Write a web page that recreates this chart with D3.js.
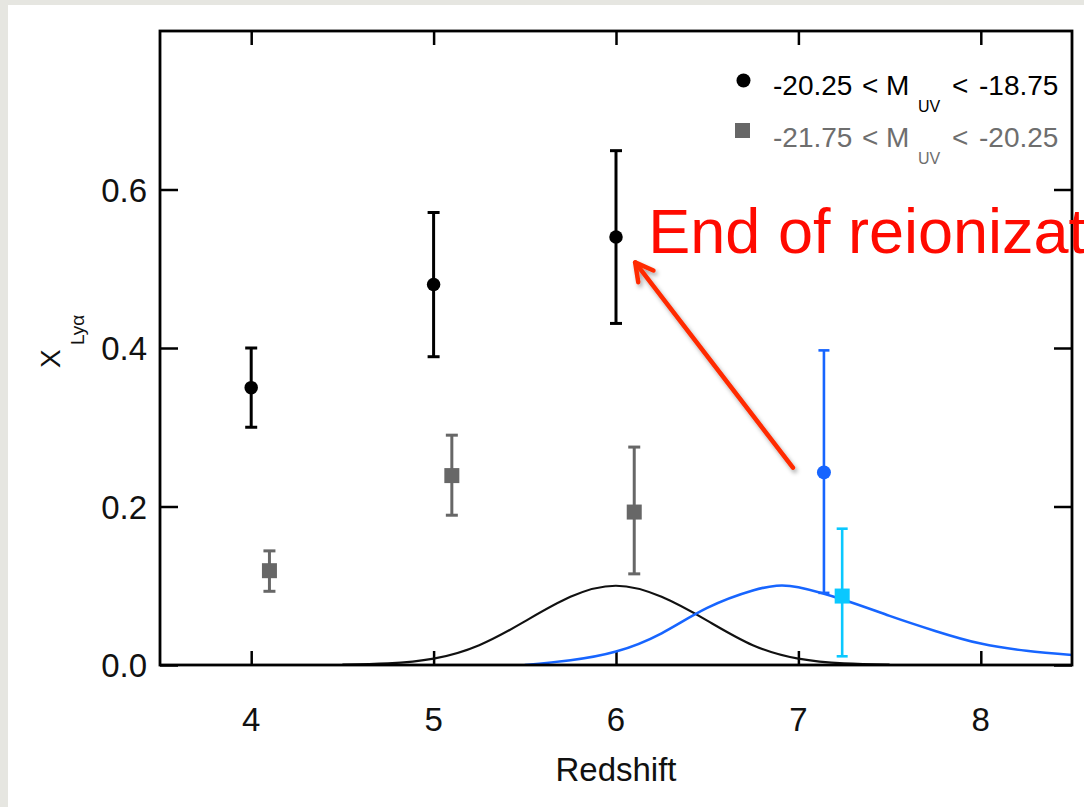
<!DOCTYPE html>
<html>
<head>
<meta charset="utf-8">
<script src="https://cdn.jsdelivr.net/npm/d3@7"></script>
<style>
  html, body { margin: 0; padding: 0; background: #e8e8e3; }
  svg { display: block; }
  text { font-family: "Liberation Sans", Arial, Helvetica, sans-serif; }
</style>
</head>
<body>
<svg id="chart" width="1084" height="807"></svg>
<script>
// Ly-alpha fraction measurements, faint sample (-20.25 < M_UV < -18.75)
const faintZ   = [4.0, 5.0, 6.0];
const faintX   = [0.350, 0.480, 0.540];
const faintLo  = [0.300, 0.389, 0.431];
const faintHi  = [0.400, 0.571, 0.649];

// bright sample (-21.75 < M_UV < -20.25)
const brightZ  = [4.1, 5.1, 6.1];
const brightX  = [0.119, 0.239, 0.193];
const brightLo = [0.093, 0.189, 0.115];
const brightHi = [0.144, 0.290, 0.275];

// z ~ 7 points
const faint7Z = [7.14], faint7X = [0.243], faint7Lo = [0.091], faint7Hi = [0.397];
const bright7Z = [7.24], bright7X = [0.087], bright7Lo = [0.011], bright7Hi = [0.172];

// redshift distributions of the two samples (arbitrary normalisation)
const distZ6Z = [4.5, 4.75, 5.0, 5.25, 5.5, 5.75, 6.0, 6.25, 6.5, 6.75, 7.0, 7.25, 7.5];
const distZ6V = [0.0005, 0.002, 0.008, 0.025, 0.055, 0.086, 0.100, 0.086, 0.056, 0.025, 0.008, 0.002, 0.0005];
const distZ7Z = [5.5, 5.75, 6.0, 6.25, 6.5, 6.75, 6.88, 7.0, 7.25, 7.5, 7.75, 8.0, 8.25, 8.5];
const distZ7V = [0.0, 0.006, 0.017, 0.040, 0.072, 0.094, 0.100, 0.098, 0.082, 0.062, 0.043, 0.027, 0.018, 0.0126];

const xTicks = [4, 5, 6, 7, 8];
const yTicks = [0.0, 0.2, 0.4, 0.6];

const svg = d3.select("#chart");

const defs = svg.append("defs");
const sh = defs.append("filter").attr("id", "arrowShadow")
  .attr("x", "-20%").attr("y", "-20%").attr("width", "140%").attr("height", "140%");
sh.append("feDropShadow").attr("dx", 2).attr("dy", 3).attr("stdDeviation", 2)
  .attr("flood-color", "#000").attr("flood-opacity", 0.35);

// slide panel
svg.append("rect").attr("x", 0).attr("y", 0).attr("width", 1084).attr("height", 807).attr("fill", "#e6e6e1");
svg.append("rect").attr("x", 8).attr("y", 5).attr("width", 1076).attr("height", 802).attr("fill", "#ffffff");

const L = 160, R = 1072, T = 31, B = 665;
const x = d3.scaleLinear().domain([3.5, 8.5]).range([L, R]);
const y = d3.scaleLinear().domain([0, 0.8]).range([B, T]);

defs.append("clipPath").attr("id", "plotClip")
  .append("rect").attr("x", L).attr("y", T).attr("width", R - L).attr("height", B - T);

// axes (box with mirrored inward ticks)
const axisStyle = g => {
  g.selectAll(".domain").remove();
  g.selectAll(".tick line").attr("stroke", "#000").attr("stroke-width", 2.5);
  g.selectAll(".tick text").remove();
};
svg.append("g").attr("transform", `translate(0,${B})`)
  .call(d3.axisBottom(x).tickValues(xTicks).tickSize(-14)).call(axisStyle);
svg.append("g").attr("transform", `translate(0,${T})`)
  .call(d3.axisTop(x).tickValues(xTicks).tickSize(-14)).call(axisStyle);
svg.append("g").attr("transform", `translate(${L},0)`)
  .call(d3.axisLeft(y).tickValues(yTicks).tickSize(-18)).call(axisStyle);
svg.append("g").attr("transform", `translate(${R},0)`)
  .call(d3.axisRight(y).tickValues(yTicks).tickSize(-18)).call(axisStyle);

// tick labels
svg.append("g").selectAll("text").data(xTicks).join("text")
  .attr("x", d => x(d)).attr("y", 731).attr("text-anchor", "middle")
  .attr("font-size", 33).attr("fill", "#111").text(d => d);
svg.append("g").selectAll("text").data(yTicks).join("text")
  .attr("x", 147).attr("y", d => y(d) + 12).attr("text-anchor", "end")
  .attr("font-size", 33).attr("fill", "#111").text(d => d.toFixed(1));

// axis titles
svg.append("text").attr("x", x(6)).attr("y", 781).attr("text-anchor", "middle")
  .attr("font-size", 33).attr("fill", "#111").text("Redshift");
const yt = svg.append("g").attr("transform", "translate(60,368) rotate(-90)");
yt.append("text").attr("x", 0).attr("y", 0).attr("font-size", 28).attr("fill", "#111").text("X");
yt.append("text").attr("x", 23).attr("y", 24).attr("font-size", 19).attr("fill", "#111").text("Lyα");

// redshift distributions
const plot = svg.append("g").attr("clip-path", "url(#plotClip)");
const line = d3.line().x(d => x(d[0])).y(d => y(d[1])).curve(d3.curveNatural);
plot.append("path").datum(d3.zip(distZ6Z, distZ6V)).attr("d", line)
  .attr("fill", "none").attr("stroke", "#111").attr("stroke-width", 2.2);
plot.append("path").datum(d3.zip(distZ7Z, distZ7V)).attr("d", line)
  .attr("fill", "none").attr("stroke", "#1765ff").attr("stroke-width", 2.6);

// plot frame
svg.append("rect").attr("x", L).attr("y", T).attr("width", R - L).attr("height", B - T)
  .attr("fill", "none").attr("stroke", "#000").attr("stroke-width", 2.8);

// error bars + markers
function series(zs, vs, lo, hi, color, shape, lw, cap, size) {
  const data = zs.map((z, i) => ({ z, v: vs[i], lo: lo[i], hi: hi[i] }));
  const g = svg.append("g");
  g.selectAll("line.bar").data(data).join("line").attr("class", "bar")
    .attr("x1", d => x(d.z)).attr("x2", d => x(d.z))
    .attr("y1", d => y(d.lo)).attr("y2", d => y(d.hi))
    .attr("stroke", color).attr("stroke-width", lw);
  ["lo", "hi"].forEach(k => {
    g.selectAll("line.cap" + k).data(data).join("line").attr("class", "cap" + k)
      .attr("x1", d => x(d.z) - cap / 2).attr("x2", d => x(d.z) + cap / 2)
      .attr("y1", d => y(d[k])).attr("y2", d => y(d[k]))
      .attr("stroke", color).attr("stroke-width", lw);
  });
  if (shape === "circle") {
    g.selectAll("circle").data(data).join("circle")
      .attr("cx", d => x(d.z)).attr("cy", d => y(d.v)).attr("r", size / 2).attr("fill", color);
  } else {
    g.selectAll("rect").data(data).join("rect")
      .attr("x", d => x(d.z) - size / 2).attr("y", d => y(d.v) - size / 2)
      .attr("width", size).attr("height", size).attr("fill", color);
  }
}
series(faintZ, faintX, faintLo, faintHi, "#000000", "circle", 3, 12, 13.5);
series(brightZ, brightX, brightLo, brightHi, "#676767", "square", 3, 12, 15);
series(faint7Z, faint7X, faint7Lo, faint7Hi, "#1765ff", "circle", 2.6, 11, 14);
series(bright7Z, bright7X, bright7Lo, bright7Hi, "#0ac8ff", "square", 2.6, 11, 15);

// legend
const leg = svg.append("g");
leg.append("circle").attr("cx", 743.5).attr("cy", 80.5).attr("r", 7).attr("fill", "#000");
leg.append("rect").attr("x", 735).attr("y", 123).attr("width", 15).attr("height", 15).attr("fill", "#676767");
const legRows = [
  { lo: "-20.25", hi: "-18.75", color: "#000", base: 95 },
  { lo: "-21.75", hi: "-20.25", color: "#6e6e6e", base: 147 }
];
legRows.forEach(r => {
  const t = leg.append("text").attr("font-size", 28).attr("fill", r.color);
  t.append("tspan").attr("x", 773).attr("y", r.base).text(r.lo);
  t.append("tspan").attr("x", 862).attr("y", r.base).text("<");
  t.append("tspan").attr("x", 886).attr("y", r.base).text("M");
  t.append("tspan").attr("x", 918).attr("y", r.base + 17).attr("font-size", 16).text("UV");
  t.append("tspan").attr("x", 952).attr("y", r.base).text("<");
  t.append("tspan").attr("x", 979).attr("y", r.base).text(r.hi);
});

// annotation: end of reionization
const tip = [x(6.105), y(0.508)], tail = [x(6.97), y(0.249)];
const ang = Math.atan2(tail[1] - tip[1], tail[0] - tip[0]);
const hl = 20, spread = 0.5;
const b1 = [tip[0] + hl * Math.cos(ang + spread), tip[1] + hl * Math.sin(ang + spread)];
const b2 = [tip[0] + hl * Math.cos(ang - spread), tip[1] + hl * Math.sin(ang - spread)];
const arrow = svg.append("g").attr("filter", "url(#arrowShadow)")
  .attr("stroke", "#ff2b05").attr("stroke-width", 4.5).attr("fill", "none")
  .attr("stroke-linecap", "round").attr("stroke-linejoin", "round");
arrow.append("path").attr("d", `M${tail[0]},${tail[1]}L${tip[0]},${tip[1]}`);
arrow.append("path").attr("d", `M${b1[0]},${b1[1]}L${tip[0]},${tip[1]}L${b2[0]},${b2[1]}`);

svg.append("text").attr("x", x(6.177)).attr("y", y(0.52))
  .attr("font-size", 63).attr("fill", "#ff0a00").text("End of reionization");
</script>
</body>
</html>
